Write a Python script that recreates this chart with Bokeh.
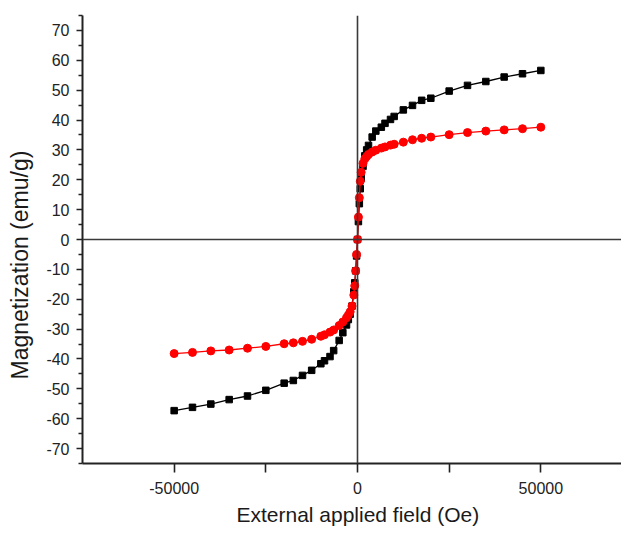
from bokeh.plotting import figure
from bokeh.models import Span, FixedTicker, Range1d
from bokeh.embed import file_html
from bokeh.resources import INLINE

# ---- data ----
field_black = [-50000, -45000, -40000, -35000, -30000, -25000, -20000, -17500, -15000, -12500,
               -10000, -9000, -7500, -6500, -5000, -4000, -3000, -2500, -2000, -1500,
               -1000, -750, -500, -250, 0, 250, 500, 750, 1000, 1500, 2000, 2500, 3000,
               4000, 5000, 6500, 7500, 9000, 10000, 12500, 15000, 17500, 20000, 25000,
               30000, 35000, 40000, 45000, 50000]
mag_black = [-57.3, -56.2, -55.1, -53.6, -52.4, -50.5, -48.1, -47.2, -45.5, -43.8,
             -41.6, -40.6, -39.2, -37.2, -33.8, -31.2, -28.6, -26.8, -25.0, -22.3,
             -17.5, -14.5, -10.5, -5.5, 0.0, 6.0, 12.0, 17.0, 20.5, 24.5, 28.0, 30.0, 31.5,
             34.3, 36.3, 37.6, 38.9, 40.2, 41.2, 43.4, 44.9, 46.6, 47.3, 49.7,
             51.6, 52.9, 54.4, 55.5, 56.6]

field_red = field_black
mag_red = [-38.2, -37.8, -37.3, -37.0, -36.4, -35.8, -34.9, -34.6, -34.1, -33.4,
           -32.4, -31.9, -31.0, -30.3, -28.8, -27.6, -26.2, -25.3, -24.2, -22.3,
           -18.6, -15.5, -10.5, -5.0, 0.0, 7.5, 14.0, 19.5, 22.5, 25.5, 27.0, 27.8, 28.5,
           29.3, 29.9, 30.6, 31.0, 31.6, 31.9, 32.6, 33.4, 33.9, 34.3, 35.1,
           35.8, 36.3, 36.7, 37.1, 37.6]

x_major = [-50000, 0, 50000]
x_minor = [-25000, 25000]
y_major = [-70, -60, -50, -40, -30, -20, -10, 0, 10, 20, 30, 40, 50, 60, 70]
y_minor = [-75, -65, -55, -45, -35, -25, -15, -5, 5, 15, 25, 35, 45, 55, 65, 75]

x_title = "External applied field (Oe)"
y_title = "Magnetization (emu/g)"

FONT = "Liberation Sans"
NBSP = "\u00a0"

p = figure(width=621, height=534, output_backend="svg", toolbar_location=None,
           x_range=Range1d(-75000, 72000), y_range=Range1d(-75, 75),
           min_border_left=82, min_border_right=0, min_border_top=15, min_border_bottom=71)
p.outline_line_color = None
p.grid.visible = False
p.background_fill_color = "white"

# zero lines
p.add_layout(Span(location=0, dimension="width", line_color="#3a3a3a", line_width=1.6))
p.add_layout(Span(location=0, dimension="height", line_color="#3a3a3a", line_width=1.6))

p.line(field_black, mag_black, line_color="black", line_width=1.3)
p.scatter(field_black, mag_black, marker="square", size=6.5, color="black")
p.line(field_red, mag_red, line_color="red", line_width=1.3)
p.scatter(field_red, mag_red, marker="circle", size=8, color="red")

# x axis
xa = p.xaxis[0]
xa.ticker = FixedTicker(ticks=x_major, minor_ticks=x_minor)
xa.major_label_overrides = {v: str(v) for v in x_major}
xa.axis_label = NBSP * 2 + x_title
xa.axis_label_text_font = FONT
xa.axis_label_text_font_size = "21px"
xa.axis_label_text_font_style = "normal"
xa.axis_label_text_color = "#1a1a1a"
xa.axis_label_standoff = 6
xa.major_label_text_font = FONT
xa.major_label_text_font_size = "16px"
xa.major_label_text_color = "#222222"
xa.major_label_standoff = 9
xa.major_tick_in = 0
xa.major_tick_out = 9
xa.minor_tick_in = 0
xa.minor_tick_out = 9
xa.axis_line_width = 2
xa.axis_line_color = "#222222"
xa.major_tick_line_width = 1.6
xa.minor_tick_line_width = 1.6
xa.major_tick_line_color = "#222222"
xa.minor_tick_line_color = "#222222"

# y axis
ya = p.yaxis[0]
ya.ticker = FixedTicker(ticks=y_major, minor_ticks=y_minor)
ya.major_label_overrides = {v: str(v) for v in y_major}
ya.axis_label = y_title + NBSP * 8
ya.axis_label_text_font = FONT
ya.axis_label_text_font_size = "23px"
ya.axis_label_text_font_style = "normal"
ya.axis_label_text_color = "#1a1a1a"
ya.axis_label_standoff = 10
ya.major_label_text_font = FONT
ya.major_label_text_font_size = "16px"
ya.major_label_text_color = "#222222"
ya.major_label_standoff = 7
ya.major_tick_in = 0
ya.major_tick_out = 6
ya.minor_tick_in = 0
ya.minor_tick_out = 4
ya.axis_line_width = 2
ya.axis_line_color = "#222222"
ya.major_tick_line_width = 1.6
ya.minor_tick_line_width = 1.4
ya.major_tick_line_color = "#222222"
ya.minor_tick_line_color = "#222222"

open("out.html", "w").write(file_html(p, INLINE))
